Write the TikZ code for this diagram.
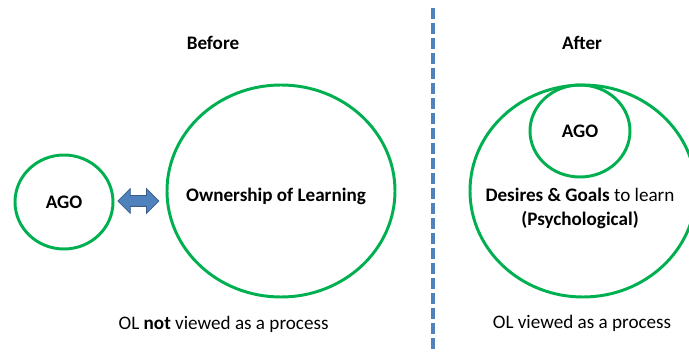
\documentclass[tikz,border=0pt]{standalone}
\usepackage{fontspec}
\setmainfont{Carlito}
\usetikzlibrary{shapes.geometric,shapes.arrows}
\definecolor{ringgreen}{HTML}{00B050}
\definecolor{sepblue}{HTML}{4F81BD}
\definecolor{sepdark}{HTML}{385D8A}
\newcommand{\capsize}{\fontsize{13.6}{16.6}\selectfont}
\tikzset{
  ring/.style={ellipse, draw=ringgreen, line width=2.1pt, inner sep=0pt,
    font=\capsize\bfseries},
  caption/.style={font=\capsize},
  heading/.style={font=\capsize\bfseries},
}

\begin{document}
\begin{tikzpicture}[every node/.style={caption}]
  \useasboundingbox (0,0) rectangle (17.225,8.8);
  \clip (0,0) rectangle (17.225,8.8);
  % Before
  \node[heading] (before) at (5.325,7.725) {Before};
  \node[ring, minimum width=2.45cm, minimum height=2.35cm] (ago1) at (1.6,3.75) {AGO};
  \node[ring, minimum width=5.7cm, minimum height=5.3cm] (ol) at (7.025,4.025) {};
  \node[heading] (oltext) at (6.9,3.9) {Ownership of Learning};
  \node[double arrow, fill=sepblue, draw=sepdark, line width=0.6pt,
    inner xsep=0pt, inner ysep=0.125cm, double arrow head extend=0.175cm,
    minimum height=1.025cm] (link) at (3.46,3.775) {};
  \node (notproc) at (5.59,0.7) {OL \textbf{not} viewed as a process};
  % Separator
  \coordinate (septop) at (10.83,8.6);
  \coordinate (sepbot) at (10.83,0);
  \draw[sepblue, line width=2.8pt, dash pattern=on 0.275cm off 0.1cm] (septop) -- (sepbot);
  % After
  \node[heading] (after) at (14.55,7.725) {After};
  \node[ring, minimum width=5.65cm, minimum height=5.3cm] (desire) at (14.575,4.025) {};
  \node[ring, minimum width=2.5cm, minimum height=2.3cm] (ago2) at (14.5,5.525) {AGO};
  \node[align=center] (desiretext) at (14.5,3.59)
    {\textbf{Desires \& Goals} to learn\\ \textbf{(Psychological)}};
  \node (proc) at (14.55,0.72) {OL viewed as a process};
\end{tikzpicture}
\end{document}
